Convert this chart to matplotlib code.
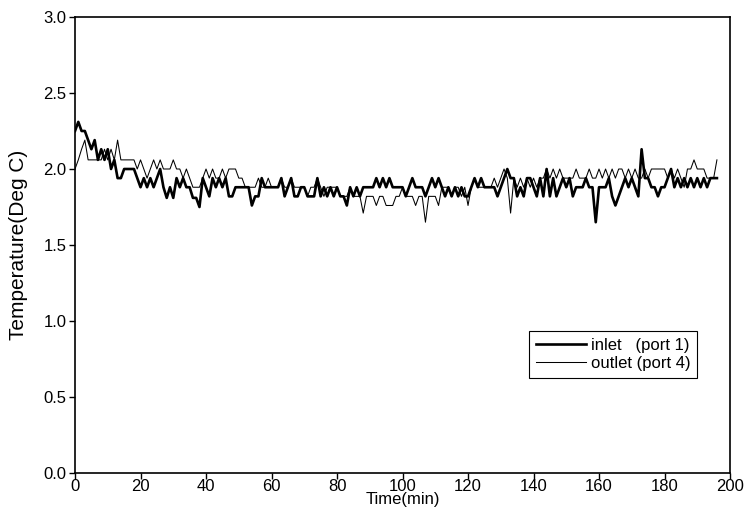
import matplotlib
matplotlib.use("Agg")
import matplotlib.pyplot as plt
import numpy as np

plt.rcParams['font.family'] = ['Liberation Sans', 'DejaVu Sans']

# sampled once a minute, 0..196 min
inlet = [
    2.25, 2.31, 2.25, 2.25, 2.19, 2.13, 2.19, 2.06, 2.13, 2.06,
    2.13, 2.00, 2.06, 1.94, 1.94, 2.00, 2.00, 2.00, 2.00, 1.94,
    1.88, 1.94, 1.88, 1.94, 1.88, 1.94, 2.00, 1.88, 1.81, 1.88,
    1.81, 1.94, 1.88, 1.94, 1.88, 1.88, 1.81, 1.81, 1.75, 1.94,
    1.88, 1.82, 1.94, 1.88, 1.94, 1.88, 1.94, 1.82, 1.82, 1.88,
    1.88, 1.88, 1.88, 1.88, 1.76, 1.82, 1.82, 1.94, 1.88, 1.88,
    1.88, 1.88, 1.88, 1.94, 1.82, 1.88, 1.94, 1.82, 1.82, 1.88,
    1.88, 1.82, 1.82, 1.82, 1.94, 1.82, 1.88, 1.82, 1.88, 1.82,
    1.88, 1.82, 1.82, 1.76, 1.88, 1.82, 1.88, 1.82, 1.88, 1.88,
    1.88, 1.88, 1.94, 1.88, 1.94, 1.88, 1.94, 1.88, 1.88, 1.88,
    1.88, 1.82, 1.88, 1.94, 1.88, 1.88, 1.88, 1.82, 1.88, 1.94,
    1.88, 1.94, 1.88, 1.82, 1.88, 1.82, 1.88, 1.82, 1.88, 1.82,
    1.82, 1.88, 1.94, 1.88, 1.94, 1.88, 1.88, 1.88, 1.88, 1.82,
    1.88, 1.94, 2.00, 1.94, 1.94, 1.82, 1.88, 1.82, 1.94, 1.94,
    1.88, 1.82, 1.94, 1.82, 2.00, 1.82, 1.94, 1.82, 1.88, 1.94,
    1.88, 1.94, 1.82, 1.88, 1.88, 1.88, 1.94, 1.88, 1.88, 1.65,
    1.88, 1.88, 1.88, 1.94, 1.82, 1.76, 1.82, 1.88, 1.94, 1.88,
    1.94, 1.88, 1.82, 2.13, 1.94, 1.94, 1.88, 1.88, 1.82, 1.88,
    1.88, 1.94, 2.00, 1.88, 1.94, 1.88, 1.94, 1.88, 1.94, 1.88,
    1.94, 1.88, 1.94, 1.88, 1.94, 1.94, 1.94,
]

outlet = [
    2.00, 2.06, 2.13, 2.19, 2.06, 2.06, 2.06, 2.06, 2.06, 2.13,
    2.06, 2.13, 2.06, 2.19, 2.06, 2.06, 2.06, 2.06, 2.06, 2.00,
    2.06, 2.00, 1.94, 2.00, 2.06, 2.00, 2.06, 2.00, 2.00, 2.00,
    2.06, 2.00, 2.00, 1.94, 2.00, 1.94, 1.88, 1.88, 1.88, 1.94,
    2.00, 1.94, 2.00, 1.94, 1.94, 2.00, 1.94, 2.00, 2.00, 2.00,
    1.94, 1.94, 1.88, 1.88, 1.88, 1.88, 1.94, 1.88, 1.88, 1.94,
    1.88, 1.88, 1.88, 1.94, 1.88, 1.88, 1.94, 1.88, 1.88, 1.88,
    1.88, 1.82, 1.88, 1.88, 1.94, 1.88, 1.82, 1.88, 1.88, 1.88,
    1.88, 1.82, 1.82, 1.82, 1.88, 1.82, 1.82, 1.82, 1.71, 1.82,
    1.82, 1.82, 1.76, 1.82, 1.82, 1.76, 1.76, 1.76, 1.82, 1.82,
    1.88, 1.82, 1.82, 1.82, 1.76, 1.82, 1.82, 1.65, 1.82, 1.82,
    1.82, 1.76, 1.88, 1.88, 1.88, 1.82, 1.88, 1.88, 1.82, 1.88,
    1.76, 1.88, 1.94, 1.88, 1.88, 1.88, 1.88, 1.88, 1.94, 1.88,
    1.94, 2.00, 1.94, 1.71, 1.94, 1.88, 1.94, 1.88, 1.94, 1.88,
    1.94, 1.88, 1.94, 1.94, 2.00, 1.94, 2.00, 1.94, 2.00, 1.94,
    1.94, 1.94, 1.94, 2.00, 1.94, 1.94, 1.94, 2.00, 1.94, 1.94,
    2.00, 1.94, 2.00, 1.94, 2.00, 1.94, 2.00, 2.00, 1.94, 2.00,
    1.94, 2.00, 1.94, 1.94, 2.00, 1.94, 2.00, 2.00, 2.00, 2.00,
    2.00, 1.94, 2.00, 1.94, 2.00, 1.94, 1.88, 2.00, 2.00, 2.06,
    2.00, 2.00, 2.00, 1.94, 1.94, 1.94, 2.06,
]

time = np.arange(len(inlet))
yticks = np.arange(0, 3.01, 0.5)

fig = plt.figure(figsize=(7.45, 5.07), dpi=100)
ax = fig.add_axes([0.1007, 0.067, 0.8792, 0.8995])

ax.plot(time, inlet, color='black', lw=1.9, label='inlet   (port 1)')
ax.plot(time, outlet, color='black', lw=0.75, label='outlet (port 4)')

ax.set_xlim(0, 200)
ax.set_ylim(0, 3.0)
ax.set_xticks(np.arange(0, 201, 20))
ax.set_yticks(yticks)
ax.set_yticklabels([f'{v:.1f}' for v in yticks])
ax.tick_params(axis='both', direction='out', length=4, width=1, labelsize=12)
ax.tick_params(axis='x', pad=0)
ax.tick_params(axis='y', pad=2)

for s in ax.spines.values():
    s.set_linewidth(1.2)

ax.set_xlabel('Time(min)', fontsize=12, labelpad=-1)
ax.set_ylabel('Temperature(Deg C)', fontsize=15)
ax.yaxis.set_label_coords(-0.072, 0.5)

leg = ax.legend(loc='upper right', bbox_to_anchor=(0.962, 0.33), fontsize=12,
                frameon=True, fancybox=False, edgecolor='black', framealpha=1,
                handlelength=3.0, handletextpad=0.3, borderpad=0.4, labelspacing=0.2)
leg.get_frame().set_linewidth(0.8)

fig.savefig('out.png', dpi=100)
